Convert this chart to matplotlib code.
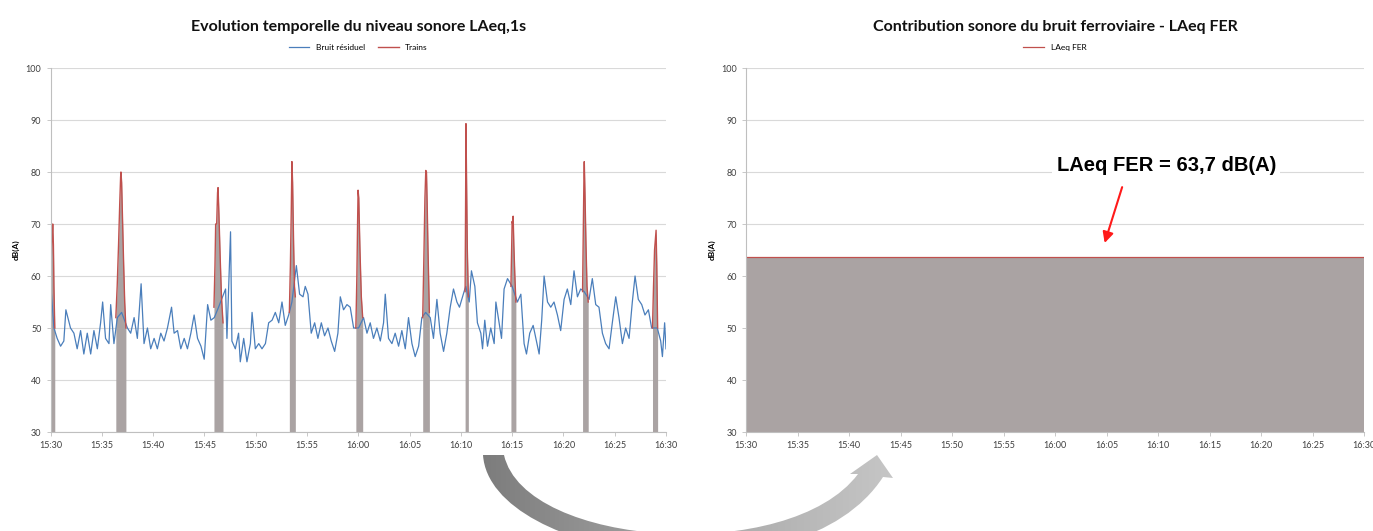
import numpy as np
import matplotlib.pyplot as plt
from matplotlib.path import Path
from matplotlib.patches import PathPatch
from matplotlib.colors import LinearSegmentedColormap

# Bruit résiduel (secondes après 15:30, dB(A))
res_t = [0, 20, 39, 59, 78, 90, 117, 137, 156, 176, 195, 215, 235, 254, 274, 293,
         305, 322, 342, 352, 371, 391, 416, 450, 469, 489, 508, 530, 547, 567, 586,
         606, 625, 645, 664, 684, 708, 723, 743, 762, 782, 801, 821, 840, 860, 880,
         899, 919, 938, 958, 983, 1024, 1032, 1053, 1061, 1081, 1100, 1110, 1130,
         1149, 1169, 1179, 1198, 1218, 1237, 1257, 1276, 1296, 1315, 1335, 1354,
         1373, 1393, 1412, 1438, 1457, 1477, 1490, 1506, 1525, 1545, 1564, 1584,
         1603, 1623, 1642, 1662, 1681, 1695, 1714, 1734, 1753, 1773, 1802, 1831,
         1851, 1870, 1889, 1909, 1929, 1948, 1958, 1977, 1997, 2016, 2036, 2055,
         2075, 2094, 2114, 2133, 2153, 2172, 2194, 2221, 2240, 2260, 2279, 2299,
         2318, 2338, 2357, 2377, 2392, 2419, 2429, 2449, 2462, 2482, 2497, 2517,
         2527, 2540, 2556, 2575, 2595, 2605, 2624, 2638, 2653, 2673, 2700, 2731,
         2751, 2770, 2784, 2803, 2823, 2842, 2858, 2873, 2887, 2907, 2926, 2945,
         2965, 2984, 3004, 3023, 3043, 3062, 3082, 3101, 3121, 3150, 3169, 3189,
         3208, 3228, 3247, 3267, 3286, 3306, 3325, 3345, 3364, 3384, 3403, 3419,
         3438, 3458, 3477, 3497, 3516, 3530, 3549, 3569, 3579, 3592, 3600]
res_db = [59, 50, 48, 46.5, 47.5, 53.5, 50, 49, 46, 49.5, 45, 49, 45, 49.5, 46, 51,
          55, 48, 47, 54.5, 47, 52, 53, 50, 49, 52, 48, 58.5, 47, 50, 46,
          48, 46, 49, 47.5, 50, 54, 49, 49.5, 46, 48, 46, 49, 52.5, 48, 46.5,
          44, 54.5, 51.5, 52, 54, 57.5, 48, 68.5, 47.5, 46, 49, 43.5, 48,
          43.5, 47, 53, 46, 47, 46, 47, 51, 51.5, 53, 51, 55,
          50.5, 52.5, 55, 62, 56.5, 56, 58, 56.5, 49, 51, 48, 51,
          48.5, 50, 47.5, 45.5, 49, 56, 53.5, 54.5, 54, 50, 50, 52,
          49, 51, 48, 50, 47.5, 51, 56.5, 48, 47, 49, 46.5, 49.5,
          46, 52, 47, 44.5, 46.5, 52, 53, 52, 48, 55.5, 49, 45.5,
          49, 54, 57.5, 55, 54, 57, 58, 55, 61, 58, 51, 49,
          46, 51.5, 46.5, 50, 47, 55, 51, 48, 57.5, 59.5, 58, 55,
          56.5, 47, 45, 49, 50.5, 47.5, 45, 51.5, 60, 55, 54, 55,
          52.5, 49.5, 55.5, 57.5, 54.5, 61, 56, 57.5, 57, 55.5, 59.5, 54.5,
          54, 49, 47, 46, 51, 56, 52, 47, 50, 48, 55, 60,
          55.5, 54.5, 52.5, 53.5, 50, 50, 50, 47.5, 44.5, 51, 46]

# Passages de trains (secondes après 15:30, dB(A))
train_t = [
    [0, 5, 10, 13, 17, 20, 25],
    [382, 390, 398, 405, 410, 412, 416, 422, 428, 434, 441],
    [956, 962, 966, 972, 977, 980, 985, 992, 1000, 1009],
    [1397, 1403, 1408, 1412, 1416, 1422, 1427, 1432],
    [1786, 1792, 1796, 1799, 1803, 1810, 1818, 1826],
    [2177, 2183, 2190, 2195, 2199, 2203, 2208, 2216],
    [2425, 2428, 2430, 2433, 2438, 2444],
    [2693, 2697, 2700, 2703, 2706, 2710, 2716, 2722],
    [3112, 3116, 3120, 3122, 3126, 3132, 3138, 3145],
    [3521, 3527, 3533, 3542, 3546, 3551],
]
train_db = [
    [59, 64, 68, 70, 66, 58, 50],
    [52, 58, 66, 74, 79, 80, 78, 70, 62, 55, 50],
    [54, 62, 70, 70, 76, 77, 72, 64, 56, 51],
    [53, 62, 72, 82, 78, 66, 58, 56],
    [50, 60, 70, 76.5, 75, 65, 56, 52],
    [52, 62, 75, 80.3, 80, 74, 65, 53],
    [57, 75, 89.3, 80, 65, 56],
    [58, 65, 70.5, 70, 71.5, 66, 60, 55],
    [57, 68, 79, 82, 76, 66, 58, 55],
    [50, 58, 65, 68.8, 62, 50],
]

laeq_fer = 63.7
tick_sec = list(range(0, 3601, 300))
tick_lab = ['15:30', '15:35', '15:40', '15:45', '15:50', '15:55', '16:00',
            '16:05', '16:10', '16:15', '16:20', '16:25', '16:30']

bleu = '#4a7ebb'
rouge = '#c0504d'
gris = '#aaa3a3'
grille = '#d9d9d9'

W, H = 1373, 531
fig = plt.figure(figsize=(W / 100, H / 100), dpi=100)
plt.rcParams['font.family'] = ['Lato', 'DejaVu Sans']


def style_axe(ax, titre):
    ax.set_xlim(0, 3600)
    ax.set_ylim(30, 100)
    ax.set_yticks(range(30, 101, 10))
    ax.set_xticks(tick_sec)
    ax.set_xticklabels(tick_lab)
    ax.tick_params(labelsize=6.5, colors='#404040', length=3, width=0.6)
    ax.tick_params(axis='x', color='#bfbfbf')
    ax.tick_params(axis='y', color='#bfbfbf')
    ax.grid(axis='y', color=grille, linewidth=0.8)
    ax.set_axisbelow(True)
    for s in ['top', 'right']:
        ax.spines[s].set_visible(False)
    for s in ['left', 'bottom']:
        ax.spines[s].set_color('#bfbfbf')
        ax.spines[s].set_linewidth(0.8)
    ax.set_ylabel('dB(A)', fontsize=6, fontweight='bold', labelpad=4)
    ax.set_title(titre, fontsize=11.5, fontweight='bold', pad=27, color='#111111')


# Graphique gauche
ax1 = fig.add_axes([50.5 / W, 99 / H, 615.5 / W, 364 / H])
ax1.plot(res_t, res_db, color=bleu, linewidth=0.9, label='Bruit résiduel')
for k in range(len(train_t)):
    ax1.fill_between(train_t[k], 30, train_db[k], color=gris, linewidth=0)
    ax1.plot(train_t[k], train_db[k], color=rouge, linewidth=1.0,
             label='Trains' if k == 0 else None)
style_axe(ax1, 'Evolution temporelle du niveau sonore LAeq,1s')
ax1.legend(loc='lower center', bbox_to_anchor=(0.5, 1.025), ncol=2, frameon=False,
           fontsize=6, handlelength=2.5, columnspacing=1.5)

# Graphique droit
ax2 = fig.add_axes([746 / W, 99 / H, 618 / W, 364 / H])
ax2.fill_between([0, 3600], 30, laeq_fer, color=gris, linewidth=0)
ax2.plot([0, 3600], [laeq_fer, laeq_fer], color=rouge, linewidth=0.9, label='LAeq FER')
style_axe(ax2, 'Contribution sonore du bruit ferroviaire - LAeq FER')
ax2.legend(loc='lower center', bbox_to_anchor=(0.5, 1.025), frameon=False,
           fontsize=6, handlelength=2.5)
ax2.text(0.68, 0.733, 'LAeq FER = 63,7 dB(A)', transform=ax2.transAxes,
         ha='center', va='center', fontsize=14.5, fontweight='bold',
         family='Liberation Sans', color='black',
         bbox=dict(facecolor='white', edgecolor='none', pad=3))
ax2.annotate('', xy=(0.579, 0.512), xytext=(0.61, 0.68), xycoords='axes fraction',
             arrowprops=dict(arrowstyle='-|>', color='#ff1a1a', lw=1.5,
                             mutation_scale=16))

# Flèche courbe grise entre les deux graphiques
ov = fig.add_axes([0, 0, 1, 1], zorder=5)
ov.set_xlim(0, W)
ov.set_ylim(H, 0)
ov.axis('off')
verts = [(483, 455), (490, 560), (800, 605), (883, 477),
         (893, 478), (877, 455), (850, 474), (858, 474),
         (790, 565), (525, 548), (504, 455), (483, 455)]
codes = [Path.MOVETO, Path.CURVE4, Path.CURVE4, Path.CURVE4,
         Path.LINETO, Path.LINETO, Path.LINETO, Path.LINETO,
         Path.CURVE4, Path.CURVE4, Path.CURVE4, Path.CLOSEPOLY]
fleche = PathPatch(Path(verts, codes), facecolor='none', edgecolor='none')
ov.add_patch(fleche)
cmap_gris = LinearSegmentedColormap.from_list('g', ['#7c7c7c', '#a6a6a6', '#c6c6c6'])
degrade = np.linspace(0, 1, 256).reshape(1, -1)
img = ov.imshow(degrade, cmap=cmap_gris, extent=[480, 895, H, 450], aspect='auto')
img.set_clip_path(fleche)

fig.savefig('out.png', dpi=100)
